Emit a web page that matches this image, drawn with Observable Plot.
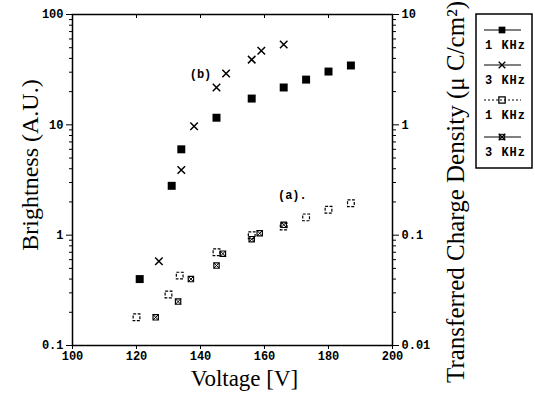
<!DOCTYPE html>
<html><head><meta charset="utf-8">
<script src="https://cdn.jsdelivr.net/npm/d3@7"></script>
<script src="https://cdn.jsdelivr.net/npm/@observablehq/plot@0.6"></script>
<style>
body{margin:0;background:#fff}
#chart{position:relative;width:535px;height:401px}
</style>
</head><body><div id="chart"></div>
<script>
// Brightness (left axis, A.U.)
const voltageB1k = [121,131,134,145,156,166,173,180,187];
const brightness1k = [0.40,2.8,6.0,11.6,17.3,21.8,25.7,30.4,34.5];
const voltageB3k = [127,134,138,145,148,156,159,166];
const brightness3k = [0.58,3.9,9.7,21.8,29.2,39,47,53.5];
// Transferred charge density (right axis, uC/cm2)
const voltageQ1k = [120,130,133.5,145,156,166,173,180,187];
const charge1k = [0.018,0.029,0.043,0.070,0.100,0.120,0.145,0.170,0.195];
const voltageQ3k = [126,133,137,145,147,156,158.5,166];
const charge3k = [0.018,0.025,0.040,0.053,0.068,0.092,0.104,0.124];
// axes
const xTicks = [100,120,140,160,180,200];
const leftTicks = [0.1,1,10,100];
const leftTickLabels = ["0.1","1","10","100"];
const rightTickLabels = ["0.01","0.1","1","10"];
const legendLabels = ["1 KHz","3 KHz","1 KHz","3 KHz"];
const annotLabels = ["(b)","(a)."];
const annotVoltage = [140,168.7];
const annotBrightness = [29,2.3];

const b1 = voltageB1k.map((v,i)=>({v, y:brightness1k[i]}));
const b3 = voltageB3k.map((v,i)=>({v, y:brightness3k[i]}));
const q1 = voltageQ1k.map((v,i)=>({v, q:charge1k[i]}));
const q3 = voltageQ3k.map((v,i)=>({v, q:charge3k[i]}));
const annots = annotLabels.map((t,i)=>({t, v:annotVoltage[i], y:annotBrightness[i]}));
const minor = [];
for (const d of [0.1,1,10]) for (let k=2;k<=9;k++) minor.push(+(d*k).toPrecision(3));
const leftMap = new Map(leftTicks.map((t,i)=>[t,leftTickLabels[i]]));
const rightMap = new Map(leftTicks.map((t,i)=>[t,rightTickLabels[i]]));
const serif = "'Liberation Serif','Times New Roman',serif";
const mono = "'Liberation Mono','DejaVu Sans Mono',monospace";

const chart = Plot.plot({
  width:535, height:401,
  marginLeft:72, marginRight:143, marginTop:14, marginBottom:56,
  x:{domain:[100,200]},
  y:{type:"log", domain:[0.1,100]},
  style:{fontFamily:mono, fontSize:"12px", fontWeight:"bold", background:"white", color:"black", overflow:"visible"},
  marks:[
    Plot.frame({stroke:"black", strokeWidth:1.5}),
    Plot.axisX({ticks:xTicks, tickSize:4, tickPadding:2, tickFormat:d=>String(d), label:null}),
    Plot.axisX({anchor:"top", ticks:xTicks, tickSize:-3, tickFormat:()=>"", label:null}),
    Plot.axisY({anchor:"left", ticks:leftTicks, tickSize:6, tickPadding:3, tickFormat:d=>leftMap.get(d), label:null}),
    Plot.axisY({anchor:"left", ticks:minor, tickSize:3, tickFormat:()=>"", label:null}),
    Plot.axisY({anchor:"right", ticks:leftTicks, tickSize:6, tickPadding:3, tickFormat:d=>rightMap.get(d), label:null}),
    Plot.axisY({anchor:"right", ticks:minor, tickSize:3, tickFormat:()=>"", label:null}),
    Plot.dot(b1, {x:"v", y:"y", symbol:"square", r:4.5, fill:"black", stroke:"none"}),
    Plot.dot(b3, {x:"v", y:"y", symbol:"times", r:3.5, stroke:"black", strokeWidth:1.5}),
    Plot.dot(q1, {x:"v", y:d=>d.q*10, symbol:"square", r:3.8, fill:"none", stroke:"black", strokeWidth:1.2, strokeDasharray:"3,1.5"}),
    Plot.dot(q3, {x:"v", y:d=>d.q*10, symbol:"square", r:3, fill:"none", stroke:"black", strokeWidth:1.2}),
    Plot.dot(q3, {x:"v", y:d=>d.q*10, symbol:"times", r:2.6, stroke:"black", strokeWidth:1}),
    Plot.text(annots, {x:"v", y:"y", text:"t", fontFamily:mono, fontSize:12, fontWeight:"bold"}),
    Plot.text(["Voltage [V]"], {frameAnchor:"bottom", textAnchor:"middle", dx:12, dy:40, fontFamily:serif, fontSize:23, fontWeight:"normal"}),
    Plot.text(["Brightness (A.U.)"], {frameAnchor:"left", textAnchor:"middle", dx:-42, dy:-15, rotate:-90, fontFamily:serif, fontSize:24, fontWeight:"normal"}),
    Plot.text(["Transferred Charge Density (\u03bc C/cm\u00b2)"], {frameAnchor:"right", textAnchor:"middle", dx:63, dy:12, rotate:-90, fontFamily:serif, fontSize:25, fontWeight:"normal"})
  ]
});
document.getElementById("chart").appendChild(chart);

// legend
const svg = d3.select(chart);
const lg = svg.append("g").attr("font-family", mono).attr("font-size", 12).attr("font-weight", "bold").attr("text-anchor","start");
lg.append("rect").attr("x",476).attr("y",14).attr("width",56).attr("height",154).attr("fill","white").attr("stroke","black").attr("stroke-width",1.5);
const lineY = [30,65,100,137];
const styles = [
  {sym:d3.symbolSquare, size:45, fill:"black", stroke:"none", dash:null},
  {sym:d3.symbolTimes, size:30, fill:"none", stroke:"black", dash:null},
  {sym:d3.symbolSquare, size:40, fill:"none", stroke:"black", dash:"2,2"},
  {sym:d3.symbolTimes, size:30, fill:"none", stroke:"black", dash:null, box:true}
];
legendLabels.forEach((label,i)=>{
  const y = lineY[i], s = styles[i];
  lg.append("line").attr("x1",484).attr("x2",521).attr("y1",y).attr("y2",y).attr("stroke","black").attr("stroke-width",1).attr("stroke-dasharray", s.dash);
  lg.append("path").attr("d", d3.symbol(s.sym, s.size)()).attr("transform",`translate(502,${y})`).attr("fill",s.fill).attr("stroke",s.stroke).attr("stroke-width",1.3);
  if (s.box) lg.append("path").attr("d", d3.symbol(d3.symbolSquare, 28)()).attr("transform",`translate(502,${y})`).attr("fill","none").attr("stroke","black");
  lg.append("text").attr("x",485).attr("y",y+19).attr("letter-spacing",1).text(label);
});
</script>
</body></html>
